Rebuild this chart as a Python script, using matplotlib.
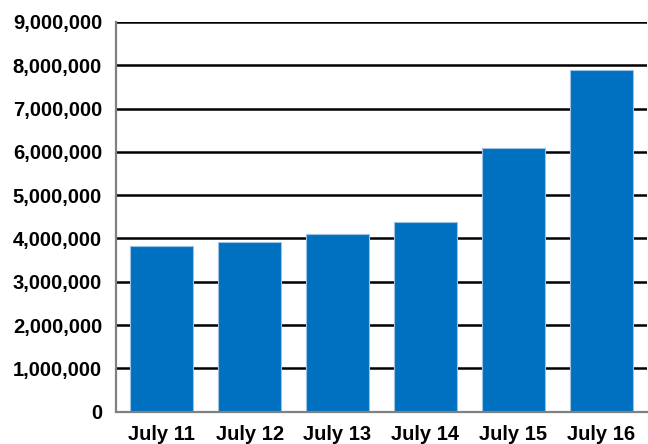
import matplotlib
matplotlib.use('Agg')
import matplotlib.pyplot as plt
from matplotlib.ticker import FuncFormatter, MultipleLocator

plt.rcParams['font.family'] = ['Liberation Sans', 'DejaVu Sans']

# 数据
days = ['July 11', 'July 12', 'July 13', 'July 14', 'July 15', 'July 16']
values = [3820000, 3920000, 4110000, 4390000, 6090000, 7900000]

fig = plt.figure(figsize=(6.48, 4.44), dpi=100)
ax = fig.add_axes([0.179, 0.073, 0.8195, 0.8775])

ax.bar(range(len(days)), values, width=0.72, color='#0070c0',
       edgecolor='#9cc3e6', linewidth=0.8, zorder=3)

ax.set_xlim(-0.52, len(days) - 0.48)
ax.set_ylim(0, 9000000)
ax.yaxis.set_major_locator(MultipleLocator(1000000))
ax.yaxis.set_major_formatter(FuncFormatter(lambda v, p: '{:,.0f}'.format(v)))
ax.set_xticks(range(len(days)))
ax.set_xticklabels(days)

ax.grid(axis='y', color='black', linewidth=1.8, zorder=1)
ax.set_axisbelow(True)

for s in ['top', 'right']:
    ax.spines[s].set_visible(False)
for s in ['left', 'bottom']:
    ax.spines[s].set_color('#808080')
    ax.spines[s].set_linewidth(1.6)
    ax.spines[s].set_zorder(4)

ax.tick_params(axis='both', length=0, labelsize=14.5)
ax.tick_params(axis='y', pad=10)
ax.tick_params(axis='x', pad=10)
for lab in ax.get_xticklabels() + ax.get_yticklabels():
    lab.set_fontweight('bold')

plt.savefig('out.png', dpi=100)
